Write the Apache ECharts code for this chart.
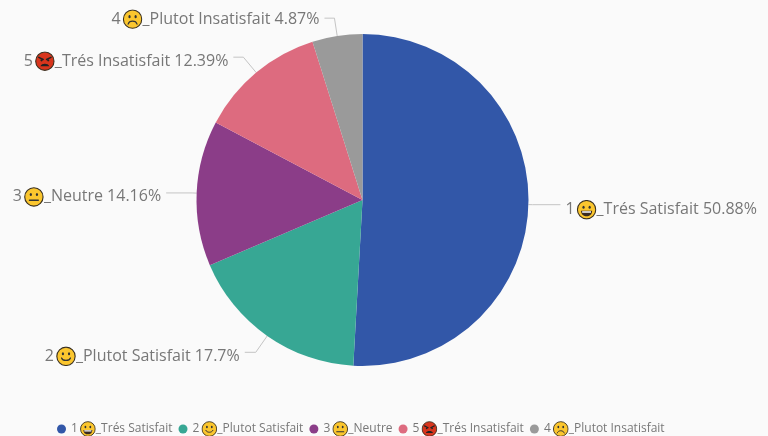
<!DOCTYPE html>
<html><head><meta charset="utf-8">
<style>html,body{margin:0;padding:0;background:#fafafa}#c{width:768px;height:436px}</style>
<script src="https://cdn.jsdelivr.net/npm/echarts@6/dist/echarts.min.js"></script>
</head><body><div id="c"></div>
<script>
const categories = ['1😃_Trés Satisfait','2🙂_Plutot Satisfait','3😐_Neutre','5😡_Trés Insatisfait','4☹_Plutot Insatisfait'];
const values = [50.88,17.7,14.16,12.39,4.87];
const colors = ['#3257A8','#37A794','#8B3D88','#DD6B7F','#9A9A9A'];
const lineFirst = [4,20,4.5,20,18];
const lineSecond = [28,11,26,10,10];
const labelPad = [10,8,8,8,2];

function face(fill, inner){
  const s = '<svg xmlns="http://www.w3.org/2000/svg" width="72" height="72" viewBox="0 0 36 36">'+
    '<circle cx="18" cy="18" r="16.5" fill="'+fill+'" stroke="#3a3020" stroke-width="2"/>'+inner+'</svg>';
  return 'data:image/svg+xml;charset=utf-8,'+encodeURIComponent(s);
}
const eyes = '<ellipse cx="12.5" cy="13.5" rx="2" ry="2.8" fill="#333"/><ellipse cx="23.5" cy="13.5" rx="2" ry="2.8" fill="#333"/>';
const icons = {
  e1: face('#FBC62E', eyes+'<path d="M8 20 H28 C28 27 23 30 18 30 C13 30 8 27 8 20Z" fill="#3a2a20"/><path d="M10 21 H26 V23.5 H10Z" fill="#fff"/>'),
  e2: face('#FBC62E', eyes+'<path d="M10 21 C12 27 24 27 26 21" fill="none" stroke="#333" stroke-width="2.2" stroke-linecap="round"/>'),
  e3: face('#FBC62E', eyes+'<path d="M10 24 H26" stroke="#333" stroke-width="2.4" stroke-linecap="round"/>'),
  e4: face('#D8351D', '<path d="M7 11 L15 15 M29 11 L21 15" stroke="#222" stroke-width="2.6" stroke-linecap="round"/><circle cx="12" cy="16.5" r="2" fill="#222"/><circle cx="24" cy="16.5" r="2" fill="#222"/><path d="M10 27 C12 21 24 21 26 27Z" fill="#222"/>'),
  e5: face('#FBC62E', eyes+'<path d="M10 27 C12 20 24 20 26 27" fill="none" stroke="#333" stroke-width="2.2" stroke-linecap="round"/>')
};
const emojiToken = {'😃':'e1','🙂':'e2','😐':'e3','😡':'e4','☹':'e5'};
function withIcons(s){
  return s.replace(/😃|🙂|😐|😡|☹/g, m => '{g|}{'+emojiToken[m]+'|}');
}
function richSet(size, font, color, gap){
  const r = {t:{fontSize:font,color:color,fontFamily:'Open Sans'},g:{width:gap,height:1}};
  Object.keys(icons).forEach(k=>{ r[k]={width:size,height:size,backgroundColor:{image:icons[k]}}; });
  return r;
}
function plain(s){
  return s.split(/(\{(?:e\d|g)\|\})/).filter(Boolean).map(p=>/^\{(e\d|g)\|/.test(p)?p:'{t|'+p+'}').join('');
}
const chart = echarts.init(document.getElementById('c'));
chart.setOption({
  animation:false,
  backgroundColor:'#fafafa',
  color:colors,
  legend:{
    left:52, top:416, itemGap:6, itemWidth:9, itemHeight:9, icon:'circle',
    textStyle:{rich:richSet(16,12,'#777',2)},
    formatter:n=>plain(withIcons(n)),
  },
  series:[{
    type:'pie',
    center:[362.5,200], radius:[0,166], startAngle:90, clockwise:true,
    avoidLabelOverlap:false,
    data:categories.map((n,i)=>({name:n,value:values[i],
      label:{padding:[labelPad[i],0,0,0]},
      labelLine:{length:lineFirst[i],length2:lineSecond[i]}})),
    label:{
      formatter:p=>plain(withIcons(p.name+' '+p.value+'%')),
      rich:richSet(20,16,'#777',2)
    },
    labelLine:{lineStyle:{color:'#c4c4c4',width:1},smooth:false}
  }]
});
</script></body></html>
